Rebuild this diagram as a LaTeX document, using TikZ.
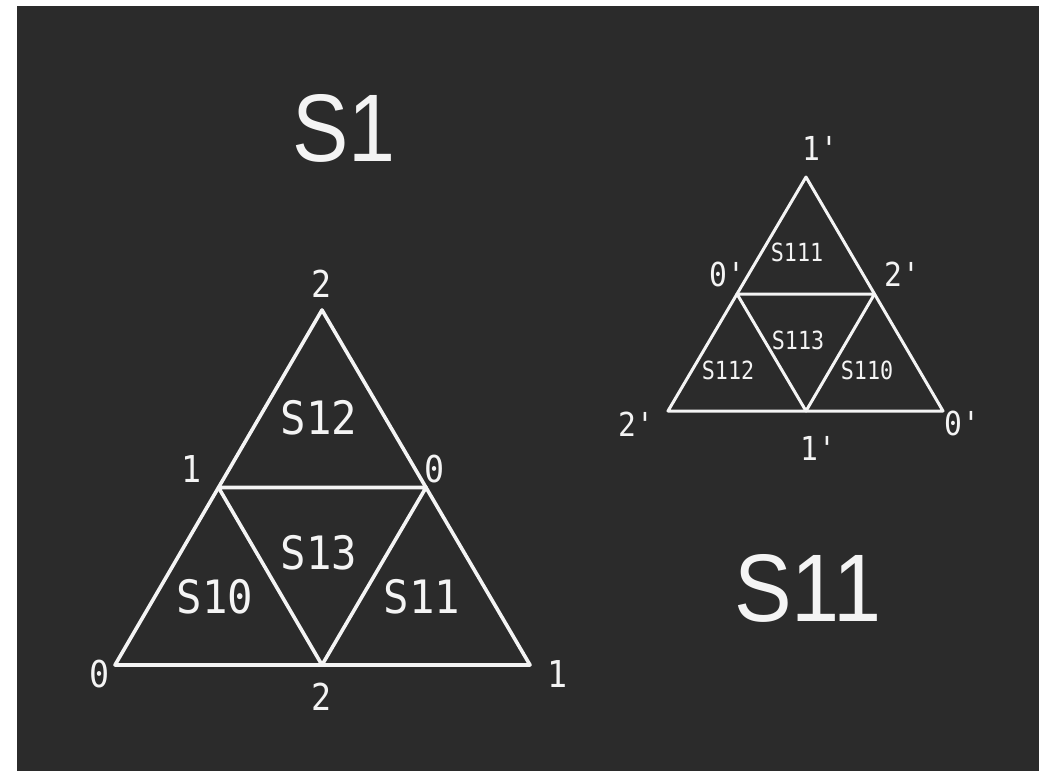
\documentclass[tikz,border=0pt]{standalone}
\usepackage{fontspec}
\usepackage{graphicx}
\setmainfont{Liberation Sans}
\newfontfamily\monofnt{DejaVu Sans Mono}
\definecolor{bgdark}{HTML}{2B2B2B}
\definecolor{ink}{HTML}{F4F4F4}
\newcommand\narrowtxt[2]{\scalebox{#1}[1]{#2}}
\tikzset{
  big/.style={draw=ink, line width=3.6pt, line join=round, line cap=round},
  small/.style={draw=ink, line width=3.0pt, line join=round, line cap=round},
  title/.style={text=ink, font=\fontsize{96}{100}\selectfont, inner sep=0pt},
  vlab/.style={text=ink, font=\monofnt\fontsize{37}{40}\selectfont, inner sep=0pt},
  rlab/.style={text=ink, font=\monofnt\fontsize{46}{50}\selectfont, inner sep=0pt},
  svlab/.style={text=ink, font=\monofnt\fontsize{33}{36}\selectfont, inner sep=0pt},
  srlab/.style={text=ink, font=\monofnt\fontsize{25}{28}\selectfont, inner sep=0pt},
}
\begin{document}
\begin{tikzpicture}[x=1pt,y=-1pt]
\useasboundingbox (0,0) rectangle (1039,771);
\fill[white] (0,0) rectangle (1039,771);
\fill[bgdark] (17,6) rectangle (1039,771);

% big triangle
\coordinate (A) at (322,310);
\coordinate (B) at (115,665);
\coordinate (C) at (530,665);
\coordinate (AB) at (218.5,487.5);
\coordinate (AC) at (426,487.5);
\coordinate (BC) at (322,665);
\draw[big] (A) -- (B) -- (C) -- cycle;
\draw[big] (AB) -- (AC) -- (BC) -- cycle;

\node[vlab] (lA) at (322,284) {\narrowtxt{0.9}{2}};
\node[vlab] (lAB) at (192,469) {\narrowtxt{0.9}{1}};
\node[vlab] (lAC) at (435,469) {\narrowtxt{0.9}{0}};
\node[vlab] (lB) at (100,674) {\narrowtxt{0.9}{0}};
\node[vlab] (lC) at (558,674) {\narrowtxt{0.9}{1}};
\node[vlab] (lBC) at (322,697) {\narrowtxt{0.9}{2}};
\node[rlab] (s12) at (319,418) {\narrowtxt{0.92}{S12}};
\node[rlab] (s13) at (319,553) {\narrowtxt{0.92}{S13}};
\node[rlab] (s10) at (215,597) {\narrowtxt{0.92}{S10}};
\node[rlab] (s11) at (422,597) {\narrowtxt{0.92}{S11}};

% small triangle
\coordinate (P) at (806,177);
\coordinate (Q) at (668,411);
\coordinate (R) at (943,411);
\coordinate (PQ) at (737,294);
\coordinate (PR) at (874.5,294);
\coordinate (QR) at (806,411);
\draw[small] (P) -- (Q) -- (R) -- cycle;
\draw[small] (PQ) -- (PR) -- (QR) -- cycle;

\node[svlab] (lP) at (820,148) {\narrowtxt{0.9}{1'}};
\node[svlab] (lPQ) at (727,274) {\narrowtxt{0.9}{0'}};
\node[svlab] (lPR) at (902,274) {\narrowtxt{0.9}{2'}};
\node[svlab] (lQ) at (636,424) {\narrowtxt{0.9}{2'}};
\node[svlab] (lR) at (962,423) {\narrowtxt{0.9}{0'}};
\node[svlab] (lQR) at (818,448) {\narrowtxt{0.9}{1'}};
\node[srlab] (s111) at (797,252) {\narrowtxt{0.87}{S111}};
\node[srlab] (s113) at (798,340) {\narrowtxt{0.87}{S113}};
\node[srlab] (s112) at (728,370) {\narrowtxt{0.87}{S112}};
\node[srlab] (s110) at (867,370) {\narrowtxt{0.87}{S110}};

% titles
\node[title] (t1) at (344,128) {\narrowtxt{0.88}{S1}};
\node[title] (t11) at (808,588) {\narrowtxt{0.9}{S11}};
\end{tikzpicture}
\end{document}
